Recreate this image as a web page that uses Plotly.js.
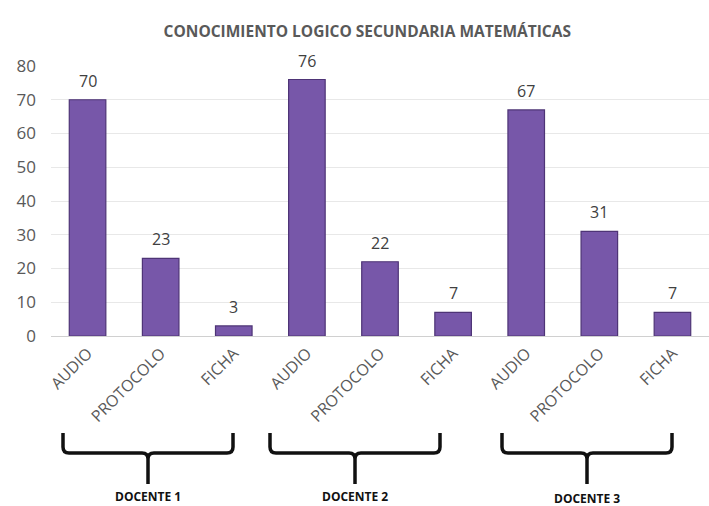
<!DOCTYPE html>
<html>
<head>
<meta charset="utf-8">
<script src="https://cdn.plot.ly/plotly-3.0.1.min.js"></script>
<style>html,body{margin:0;padding:0;background:#fff;}#chart{width:709px;height:506px;}</style>
</head>
<body>
<div id="chart"></div>
<script>
const categories = ["AUDIO", "PROTOCOLO", "FICHA", "AUDIO ", "PROTOCOLO ", "FICHA ", "AUDIO  ", "PROTOCOLO  ", "FICHA  "];
const tickLabels = ["AUDIO", "PROTOCOLO", "FICHA", "AUDIO", "PROTOCOLO", "FICHA", "AUDIO", "PROTOCOLO", "FICHA"];
const values = [70, 23, 3, 76, 22, 7, 67, 31, 7];
const groups = ["DOCENTE 1", "DOCENTE 2", "DOCENTE 3"];
const yTicks = [0, 10, 20, 30, 40, 50, 60, 70, 80];

const W = 709, H = 506, ML = 51, MR = 0, MT = 66, MB = 170;
const pw = W - ML - MR, ph = H - MT - MB;
const px = x => (x - ML) / pw;
const py = y => (H - MB - y) / ph;

const braces = [[63, 233], [270, 440], [502, 672]];
const textY = [496, 496, 498];
const shapes = [];
const annotations = [];
braces.forEach((b, i) => {
  const l = b[0], r = b[1], c = (l + r) / 2;
  const top = 433, bar = 453, bot = 484, rad = 6;
  const P = (x, y) => px(x).toFixed(5) + ',' + py(y).toFixed(5);
  const path = 'M' + P(l, top) + ' L' + P(l, bar - rad) + ' Q' + P(l, bar) + ' ' + P(l + rad, bar) +
    ' L' + P(c - rad, bar) + ' Q' + P(c, bar) + ' ' + P(c, bar + rad) + ' L' + P(c, bot) +
    ' M' + P(c, bar + rad) + ' Q' + P(c, bar) + ' ' + P(c + rad, bar) +
    ' L' + P(r - rad, bar) + ' Q' + P(r, bar) + ' ' + P(r, bar - rad) + ' L' + P(r, top);
  shapes.push({type: 'path', xref: 'paper', yref: 'paper', path: path,
    line: {color: '#111', width: 3.5}});
  annotations.push({xref: 'paper', yref: 'paper', x: px(c), y: py(textY[i]), text: '<b>' + groups[i] + '</b>',
    showarrow: false, xanchor: 'center', yanchor: 'middle',
    font: {family: 'Open Sans, sans-serif', size: 12, color: '#111'}});
});
values.forEach((v, i) => {
  annotations.push({xref: 'x', yref: 'y', x: categories[i], y: v, text: String(v), showarrow: false,
    yanchor: 'bottom', yshift: 6,
    font: {family: 'Open Sans, sans-serif', size: 16, color: '#404040'}});
});

const trace = {
  type: 'bar', x: categories, y: values,
  marker: {color: '#7757A9', line: {color: '#4E3476', width: 1.2}},
  hoverinfo: 'none'
};

const layout = {
  width: W, height: H,
  margin: {l: ML, r: MR, t: MT, b: MB},
  paper_bgcolor: '#fff', plot_bgcolor: '#fff',
  showlegend: false,
  bargap: 0.5,
  title: {text: '<b>CONOCIMIENTO LOGICO SECUNDARIA MATEMÁTICAS</b>', x: 0.518, xanchor: 'center', y: 0.937, yanchor: 'middle',
    font: {family: 'Open Sans, sans-serif', size: 15.5, color: '#595959'}},
  xaxis: {
    tickmode: 'array', tickvals: categories, ticktext: tickLabels,
    tickangle: -45, showgrid: false, zeroline: false, showline: false, ticks: '',
    ticklabelstandoff: 4,
    tickfont: {family: 'Open Sans, sans-serif', size: 16, color: '#595959'}
  },
  yaxis: {
    range: [0, 80], tickvals: yTicks, showgrid: true, gridcolor: '#e8e8e8', gridwidth: 1,
    zeroline: true, zerolinecolor: '#d0d0d0', showline: false, ticks: '', ticklen: 0,
    ticklabelstandoff: 14,
    tickfont: {family: 'Open Sans, sans-serif', size: 17, color: '#595959'}
  },
  shapes: shapes,
  annotations: annotations
};

Plotly.newPlot('chart', [trace], layout, {displayModeBar: false, staticPlot: true});
</script>
</body>
</html>
